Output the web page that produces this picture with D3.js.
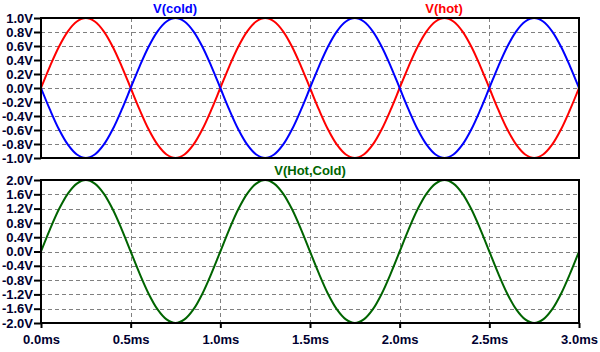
<!DOCTYPE html>
<html>
<head>
<meta charset="utf-8">
<script src="https://cdn.jsdelivr.net/npm/d3@7"></script>
<style>
  body { margin: 0; background: #fff; }
  svg { display: block; }
</style>
</head>
<body>
<svg id="chart"></svg>
<script>
// time samples in ms (every 0.05ms)
const timeMs = [0, 0.05, 0.1, 0.15, 0.2, 0.25, 0.3, 0.35, 0.4, 0.45, 0.5, 0.55, 0.6, 0.65, 0.7, 0.75, 0.8, 0.85, 0.9, 0.95,
  1.0, 1.05, 1.1, 1.15, 1.2, 1.25, 1.3, 1.35, 1.4, 1.45, 1.5, 1.55, 1.6, 1.65, 1.7, 1.75, 1.8, 1.85, 1.9, 1.95,
  2.0, 2.05, 2.1, 2.15, 2.2, 2.25, 2.3, 2.35, 2.4, 2.45, 2.5, 2.55, 2.6, 2.65, 2.7, 2.75, 2.8, 2.85, 2.9, 2.95, 3.0];

// V(hot)
const vHot = [0, 0.31, 0.59, 0.81, 0.95, 1.0, 0.95, 0.81, 0.59, 0.31, 0, -0.31, -0.59, -0.81, -0.95, -1.0, -0.95, -0.81, -0.59, -0.31,
  0, 0.31, 0.59, 0.81, 0.95, 1.0, 0.95, 0.81, 0.59, 0.31, 0, -0.31, -0.59, -0.81, -0.95, -1.0, -0.95, -0.81, -0.59, -0.31,
  0, 0.31, 0.59, 0.81, 0.95, 1.0, 0.95, 0.81, 0.59, 0.31, 0, -0.31, -0.59, -0.81, -0.95, -1.0, -0.95, -0.81, -0.59, -0.31, 0];

// V(cold)
const vCold = [0, -0.31, -0.59, -0.81, -0.95, -1.0, -0.95, -0.81, -0.59, -0.31, 0, 0.31, 0.59, 0.81, 0.95, 1.0, 0.95, 0.81, 0.59, 0.31,
  0, -0.31, -0.59, -0.81, -0.95, -1.0, -0.95, -0.81, -0.59, -0.31, 0, 0.31, 0.59, 0.81, 0.95, 1.0, 0.95, 0.81, 0.59, 0.31,
  0, -0.31, -0.59, -0.81, -0.95, -1.0, -0.95, -0.81, -0.59, -0.31, 0, 0.31, 0.59, 0.81, 0.95, 1.0, 0.95, 0.81, 0.59, 0.31, 0];

// V(Hot,Cold) bottom pane
const vHotCold = [0, 0.62, 1.18, 1.62, 1.90, 2.0, 1.90, 1.62, 1.18, 0.62, 0, -0.62, -1.18, -1.62, -1.90, -2.0, -1.90, -1.62, -1.18, -0.62,
  0, 0.62, 1.18, 1.62, 1.90, 2.0, 1.90, 1.62, 1.18, 0.62, 0, -0.62, -1.18, -1.62, -1.90, -2.0, -1.90, -1.62, -1.18, -0.62,
  0, 0.62, 1.18, 1.62, 1.90, 2.0, 1.90, 1.62, 1.18, 0.62, 0, -0.62, -1.18, -1.62, -1.90, -2.0, -1.90, -1.62, -1.18, -0.62, 0];

const xTicks = [0, 0.5, 1.0, 1.5, 2.0, 2.5, 3.0];
const topTicks = [1.0, 0.8, 0.6, 0.4, 0.2, 0.0, -0.2, -0.4, -0.6, -0.8, -1.0];
const bottomTicks = [2.0, 1.6, 1.2, 0.8, 0.4, 0.0, -0.4, -0.8, -1.2, -1.6, -2.0];

const W = 600, H = 352;
const svg = d3.select('#chart').attr('width', W).attr('height', H);
const font = '"Liberation Sans", Arial, sans-serif';
const textColor = '#000030';

const x = d3.scaleLinear().domain([0, 3]).range([41, 579]);

function drawPane(top, bottom, domain, ticks, series) {
    const y = d3.scaleLinear().domain(domain).range([bottom, top]);
    const g = svg.append('g');

    // dashed grid
    g.selectAll('.hgrid').data(ticks.slice(1, -1)).join('line')
        .attr('x1', x.range()[0]).attr('x2', x.range()[1])
        .attr('y1', d => Math.round(y(d)) + 0.5).attr('y2', d => Math.round(y(d)) + 0.5)
        .attr('stroke', '#808080').attr('stroke-dasharray', '4,3');
    g.selectAll('.vgrid').data(xTicks.slice(1, -1)).join('line')
        .attr('x1', d => Math.round(x(d)) + 0.5).attr('x2', d => Math.round(x(d)) + 0.5)
        .attr('y1', top).attr('y2', bottom)
        .attr('stroke', '#808080').attr('stroke-dasharray', '4,3');

    // y axis: short ticks + labels
    const yAxis = d3.axisLeft(y).tickValues(ticks).tickSize(7).tickPadding(1)
        .tickFormat(d => d3.format('.1f')(d).replace('−', '-') + 'V');
    const ya = g.append('g').attr('transform', `translate(${x.range()[0]},0)`).call(yAxis);
    ya.select('.domain').remove();
    ya.selectAll('line').attr('stroke', '#000').attr('stroke-width', 2);
    ya.selectAll('text').attr('font-family', font).attr('font-size', 13)
        .attr('font-weight', 'bold').attr('fill', textColor);

    // traces
    const line = d3.line().x((d, i) => x(timeMs[i])).y(d => y(d)).curve(d3.curveCatmullRom);
    series.forEach(s => {
        g.append('path').datum(s.values).attr('d', line)
            .attr('fill', 'none').attr('stroke', s.color).attr('stroke-width', 2);
    });

    // frame
    g.append('rect').attr('x', x.range()[0]).attr('y', top)
        .attr('width', x.range()[1] - x.range()[0]).attr('height', bottom - top)
        .attr('fill', 'none').attr('stroke', '#000').attr('stroke-width', 2);
    return y;
}

drawPane(18, 158, [-1, 1], topTicks, [
    { values: vHot, color: '#ff0000' },
    { values: vCold, color: '#0000ff' }
]);
drawPane(180, 323, [-2, 2], bottomTicks, [
    { values: vHotCold, color: '#006400' }
]);

// x axis
const xAxis = d3.axisBottom(x).tickValues(xTicks).tickSize(5).tickPadding(7)
    .tickFormat(d => d3.format('.1f')(d) + 'ms');
const xa = svg.append('g').attr('transform', 'translate(0,323)').call(xAxis);
xa.select('.domain').remove();
xa.selectAll('line').attr('stroke', '#000').attr('stroke-width', 2);
xa.selectAll('text').attr('font-family', font).attr('font-size', 13)
    .attr('font-weight', 'bold').attr('fill', textColor);

// trace titles
const titles = [
    { text: 'V(cold)', x: 175, y: 13, color: '#0000ff' },
    { text: 'V(hot)', x: 444, y: 13, color: '#ff0000' },
    { text: 'V(Hot,Cold)', x: 310, y: 175, color: '#006400' }
];
svg.selectAll('.title').data(titles).join('text')
    .attr('x', d => d.x).attr('y', d => d.y)
    .attr('text-anchor', 'middle')
    .attr('font-family', font).attr('font-size', 13).attr('font-weight', 'bold')
    .attr('fill', d => d.color).text(d => d.text);
</script>
</body>
</html>
